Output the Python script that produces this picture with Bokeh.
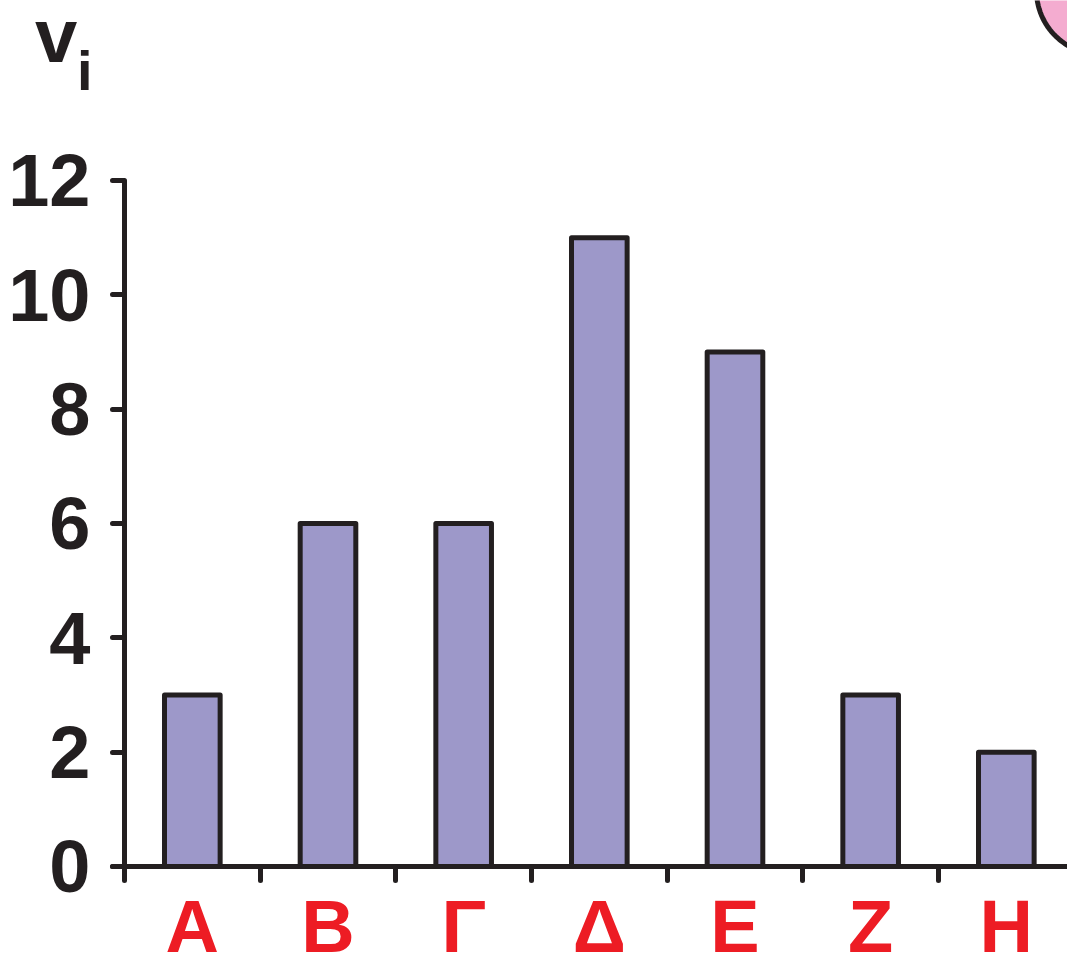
import numpy as np
from bokeh.plotting import figure
from bokeh.models import Range1d, FixedTicker, Label, PolyAnnotation, ColumnDataSource
from bokeh.embed import file_html
from bokeh.resources import INLINE

categories = ["Α", "Β", "Γ", "Δ", "Ε", "Ζ", "Η"]
values = [3, 6, 6, 11, 9, 3, 2]
y_ticks = [0, 2, 4, 6, 8, 10, 12]

DARK = "#231F20"
FILL = "#9D98C9"
RED = "#ED1C24"
PINK = "#F4ACD0"
FONT = "Liberation Sans"

centers = [i + 0.5 for i in range(len(categories))]
boundaries = list(range(len(categories) + 1))

p = figure(width=1067, height=959, output_backend="svg", toolbar_location=None,
           x_range=Range1d(-0.914, 6.951), y_range=Range1d(-1.627, 15.148),
           min_border=0, min_border_left=0, min_border_right=0,
           min_border_top=0, min_border_bottom=0)
p.title.visible = False
p.outline_line_color = None
p.xgrid.visible = False
p.ygrid.visible = False
p.background_fill_color = "white"
p.border_fill_color = "white"

src = ColumnDataSource(dict(x=centers, top=values))
p.vbar(x="x", top="top", width=0.41, bottom=0, source=src, fill_color=FILL,
       line_color=DARK, line_width=5, line_join="round")

# y axis
ya = p.yaxis[0]
ya.fixed_location = 0
ya.bounds = (0, 12)
ya.ticker = FixedTicker(ticks=y_ticks)
ya.axis_line_width = 5
ya.axis_line_color = DARK
ya.major_tick_line_width = 5
ya.major_tick_line_color = DARK
ya.major_tick_line_cap = "round"
ya.major_tick_out = 12
ya.major_tick_in = 0
ya.minor_tick_line_color = None
ya.major_label_text_font = FONT
ya.major_label_text_font_style = "bold"
ya.major_label_text_font_size = "74px"
ya.major_label_text_color = DARK
ya.major_label_standoff = 22

# x axis
xa = p.xaxis[0]
xa.fixed_location = 0
xa.bounds = (-0.088, 7)
xa.ticker = FixedTicker(ticks=centers, minor_ticks=boundaries)
xa.major_label_overrides = {c: cat for c, cat in zip(centers, categories)}
xa.axis_line_width = 5
xa.axis_line_color = DARK
xa.axis_line_cap = "round"
xa.major_tick_line_color = None
xa.major_tick_out = 0
xa.major_tick_in = 0
xa.minor_tick_line_width = 5
xa.minor_tick_line_color = DARK
xa.minor_tick_line_cap = "round"
xa.minor_tick_out = 14
xa.minor_tick_in = 0
xa.major_label_text_font = FONT
xa.major_label_text_font_style = "bold"
xa.major_label_text_font_size = "74px"
xa.major_label_text_line_height = 0.8
xa.major_label_text_color = RED
xa.major_label_standoff = 5

# v_i label
p.add_layout(Label(x=-0.66, y=14.535, text="v", text_font=FONT, text_font_style="bold",
                   text_font_size="76px", text_color=DARK, text_baseline="alphabetic"))
p.add_layout(Label(x=-0.350, y=13.923, text="i", text_font=FONT, text_font_style="bold",
                   text_font_size="56px", text_color=DARK, text_baseline="alphabetic"))

# pink circle decoration in top-right corner
t = np.linspace(0, 2 * np.pi, 120)
cx, cy, rx, ry = 7.194, 15.323, 0.4717, 1.1195
p.add_layout(PolyAnnotation(xs=list(cx + rx * np.cos(t)), ys=list(cy + ry * np.sin(t)),
                            fill_color=PINK, fill_alpha=1, line_color=DARK,
                            line_alpha=1, line_width=5))

open("out.html", "w").write(file_html(p, INLINE))
